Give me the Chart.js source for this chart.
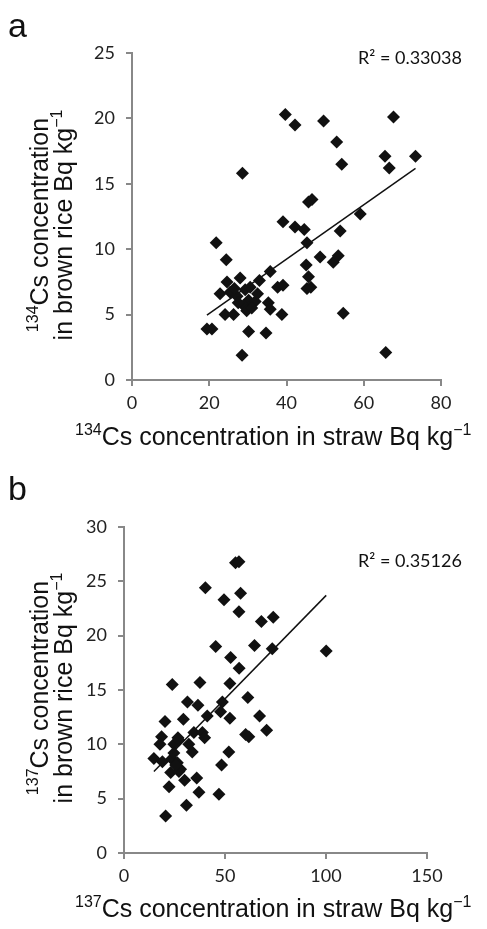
<!DOCTYPE html>
<html>
<head>
<meta charset="utf-8">
<script src="https://cdn.jsdelivr.net/npm/chart.js@4.4.1/dist/chart.umd.min.js"></script>
<style>
  html, body { margin: 0; padding: 0; background: #fff; }
  .panel { position: absolute; left: 0; width: 487px; }
  #panelA { top: 0; height: 460px; }
  #panelB { top: 460px; height: 469px; }
</style>
</head>
<body>
<div class="panel" id="panelA"><canvas id="chartA"></canvas></div>
<div class="panel" id="panelB"><canvas id="chartB"></canvas></div>
<script>
// 134Cs: straw vs brown rice (Bq/kg)
const strawCs134 = [39.7, 42.2, 49.6, 67.7, 28.6, 53.0, 54.3, 65.5, 66.6, 73.4,
  45.7, 46.6, 39.1, 42.2, 44.6, 59.1, 53.9, 21.8, 45.3, 24.4,
  45.1, 48.7, 52.1, 53.4, 35.8, 45.7, 45.3, 46.3, 33.0, 28.0,
  24.6, 37.7, 39.1, 22.8, 25.4, 27.2, 29.3, 30.6, 30.2, 31.9,
  28.9, 29.7, 35.3, 35.8, 24.1, 26.3, 38.8, 19.4, 20.7, 30.2,
  34.7, 54.7, 28.5, 65.7, 32.5, 27.5, 31.0, 26.5];
const riceCs134 = [20.3, 19.5, 19.8, 20.1, 15.8, 18.2, 16.5, 17.1, 16.2, 17.1,
  13.6, 13.8, 12.1, 11.7, 11.5, 12.7, 11.4, 10.5, 10.5, 9.2,
  8.8, 9.4, 9.0, 9.5, 8.3, 7.9, 7.0, 7.1, 7.6, 7.8,
  7.5, 7.1, 7.25, 6.6, 6.7, 6.4, 6.9, 7.1, 6.1, 6.0,
  5.7, 5.3, 5.9, 5.4, 5.0, 5.0, 5.0, 3.9, 3.9, 3.7,
  3.6, 5.1, 1.9, 2.1, 6.6, 5.9, 5.5, 7.0];

// 137Cs: straw vs brown rice (Bq/kg)
const strawCs137 = [55.2, 56.9, 40.3, 49.5, 57.7, 56.9, 68.0, 73.9, 45.4, 64.6,
  73.4, 100.1, 52.8, 57.0, 23.9, 37.6, 52.4, 61.3, 31.4, 36.6,
  48.7, 41.2, 47.8, 52.4, 67.1, 70.6, 60.2, 61.8, 20.3, 29.4,
  34.6, 38.8, 39.9, 18.6, 17.8, 26.7, 24.7, 32.1, 33.8, 14.8,
  19.0, 23.9, 24.7, 26.4, 28.0, 23.1, 27.2, 51.9, 48.3, 22.3,
  30.0, 36.0, 37.1, 47.0, 30.9, 20.6, 27.2, 25.6];
const riceCs137 = [26.7, 26.8, 24.4, 23.3, 23.9, 22.2, 21.3, 21.7, 19.0, 19.1,
  18.8, 18.6, 18.0, 17.0, 15.5, 15.7, 15.6, 14.3, 13.9, 13.6,
  13.9, 12.6, 13.0, 12.4, 12.6, 11.3, 10.9, 10.7, 12.1, 12.3,
  11.1, 11.1, 10.6, 10.7, 10.0, 10.6, 10.0, 10.0, 9.3, 8.7,
  8.4, 8.6, 9.2, 8.3, 7.7, 7.4, 7.5, 9.3, 8.1, 6.1,
  6.7, 6.9, 5.6, 5.4, 4.4, 3.4, 10.4, 8.1];

// linear trend lines [slope, intercept] and R² labels
const fitCs134 = [0.208, 0.92];
const fitCs137 = [0.19, 4.69];
const r2Cs134 = '0.33038';
const r2Cs137 = '0.35126';

// axis ticks
const xTicksA = [0, 20, 40, 60, 80];
const yTicksA = [0, 5, 10, 15, 20, 25];
const xTicksB = [0, 50, 100, 150];
const yTicksB = [0, 5, 10, 15, 20, 25, 30];

const TITLE_FONT = '25px "Liberation Sans", Arial, sans-serif';
const SUP_FONT = '16px "Liberation Sans", Arial, sans-serif';
const INK = '#111';
const AXIS = '#888';

function toPoints(xs, ys) {
  return xs.map((x, i) => ({ x: x, y: ys[i] }));
}

function trend(xs, fit) {
  const lo = Math.min(...xs), hi = Math.max(...xs);
  return [{ x: lo, y: fit[0] * lo + fit[1] }, { x: hi, y: fit[0] * hi + fit[1] }];
}

// text made of [string, isSuperscript] pieces, drawn left to right
function richWidth(ctx, parts) {
  let w = 0;
  for (const [t, sup] of parts) {
    ctx.font = sup ? SUP_FONT : TITLE_FONT;
    w += ctx.measureText(t).width;
  }
  return w;
}

function drawRich(ctx, parts, x, y) {
  ctx.textAlign = 'left';
  ctx.textBaseline = 'alphabetic';
  for (const [t, sup] of parts) {
    ctx.font = sup ? SUP_FONT : TITLE_FONT;
    ctx.fillText(t, x, sup ? y - 10 : y);
    x += ctx.measureText(t).width;
  }
}

function labelsPlugin(cfg) {
  return {
    id: 'labels',
    afterDraw(chart) {
      const ctx = chart.ctx;
      ctx.save();
      ctx.fillStyle = INK;

      ctx.font = '34px "Liberation Sans", Arial, sans-serif';
      ctx.textAlign = 'left';
      ctx.textBaseline = 'alphabetic';
      ctx.fillText(cfg.letter, 8, cfg.letterY);

      // y axis title, two rotated lines
      const line1 = [[cfg.iso, true], ['Cs concentration', false]];
      const line2 = [['in brown rice Bq kg', false], ['\u2212' + '1', true]];
      ctx.save();
      ctx.translate(0, cfg.yTitleMid);
      ctx.rotate(-Math.PI / 2);
      drawRich(ctx, line1, -richWidth(ctx, line1) / 2, 48);
      drawRich(ctx, line2, -richWidth(ctx, line2) / 2, 72);
      ctx.restore();

      // x axis title
      drawRich(ctx, [[cfg.iso, true], ['Cs concentration in straw Bq kg', false], ['\u2212' + '1', true]],
        75, cfg.xTitleY);

      ctx.font = '18px Lato, "Open Sans", sans-serif';
      ctx.fillText('R\u00b2 = ' + cfg.r2, 358, cfg.r2Y);
      ctx.restore();
    }
  };
}

function makeChart(id, pts, line, xTicks, yTicks, box, cfg) {
  const tickFont = { family: 'Lato, "Open Sans", sans-serif', size: 18 };
  return new Chart(document.getElementById(id), {
    type: 'scatter',
    data: {
      datasets: [
        {
          data: line,
          type: 'line',
          showLine: true,
          borderColor: INK,
          borderWidth: 1.5,
          pointRadius: 0,
          order: 0
        },
        {
          data: pts,
          pointStyle: 'rectRot',
          pointRadius: 6.5,
          backgroundColor: INK,
          borderColor: INK,
          borderWidth: 0,
          order: 1
        }
      ]
    },
    options: {
      responsive: true,
      maintainAspectRatio: false,
      animation: false,
      events: [],
      layout: { padding: { left: 0, top: box.top, right: box.right, bottom: 0 } },
      plugins: { legend: { display: false }, tooltip: { enabled: false } },
      scales: {
        x: {
          type: 'linear',
          min: xTicks[0],
          max: xTicks[xTicks.length - 1],
          afterBuildTicks: (s) => { s.ticks = xTicks.map((v) => ({ value: v })); },
          afterFit: (s) => { s.height = box.xAxis; },
          border: { display: true, color: AXIS, width: 2 },
          grid: { drawOnChartArea: false, drawTicks: true, tickLength: 6, color: AXIS, lineWidth: 2 },
          ticks: { font: tickFont, color: '#222', padding: 6, maxRotation: 0 }
        },
        y: {
          type: 'linear',
          min: yTicks[0],
          max: yTicks[yTicks.length - 1],
          afterBuildTicks: (s) => { s.ticks = yTicks.map((v) => ({ value: v })); },
          afterFit: (s) => { s.width = box.yAxis; },
          border: { display: true, color: AXIS, width: 2 },
          grid: { drawOnChartArea: false, drawTicks: true, tickLength: 6, color: AXIS, lineWidth: 2 },
          ticks: { font: tickFont, color: '#222', padding: 11 }
        }
      }
    },
    plugins: [labelsPlugin(cfg)]
  });
}

makeChart('chartA', toPoints(strawCs134, riceCs134), trend(strawCs134, fitCs134),
  xTicksA, yTicksA,
  { top: 53, right: 46, xAxis: 80, yAxis: 132 },
  { letter: 'a', letterY: 37, iso: '134', yTitleMid: 225, xTitleY: 445, r2: r2Cs134, r2Y: 64 });

makeChart('chartB', toPoints(strawCs137, riceCs137), trend(strawCs137, fitCs137),
  xTicksB, yTicksB,
  { top: 67, right: 60, xAxis: 76, yAxis: 124 },
  { letter: 'b', letterY: 40, iso: '137', yTitleMid: 228, xTitleY: 457, r2: r2Cs137, r2Y: 107 });
</script>
</body>
</html>
